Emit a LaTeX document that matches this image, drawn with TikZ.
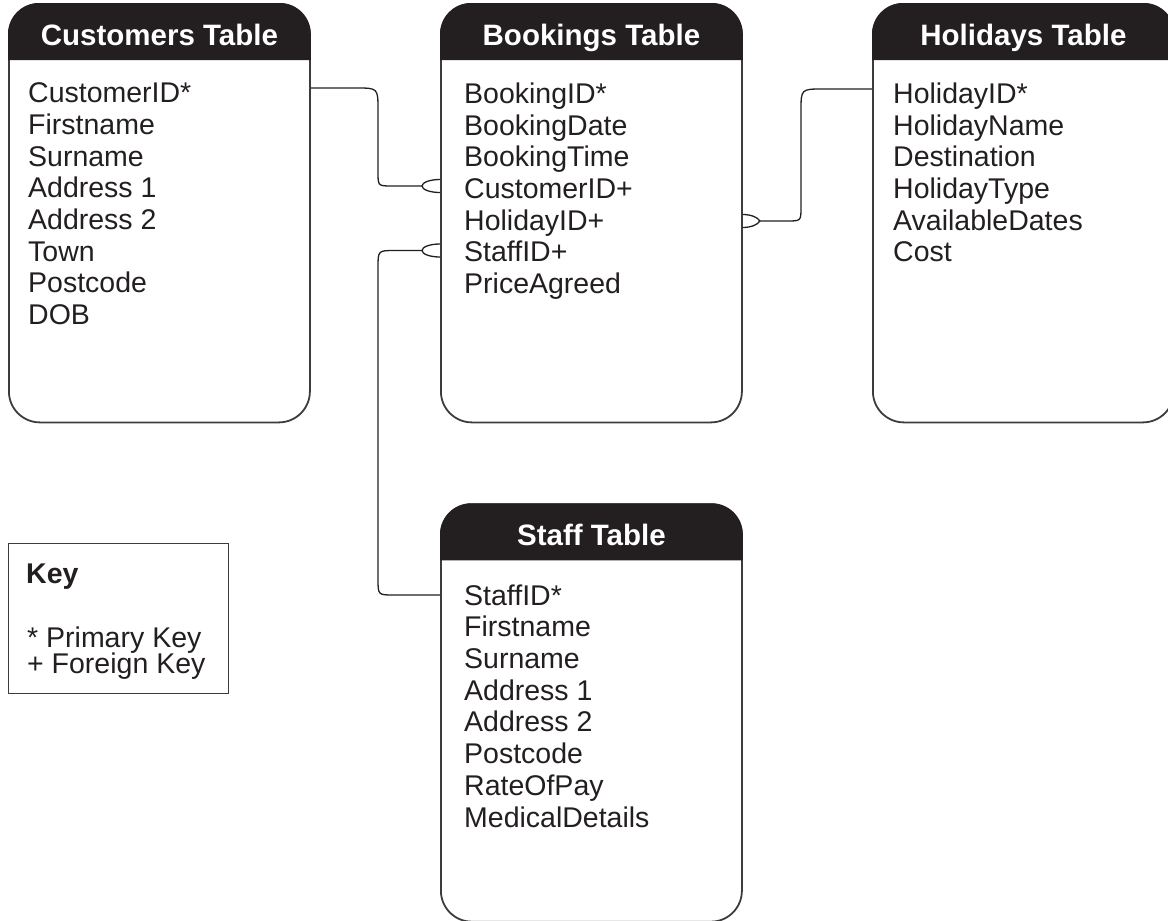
\documentclass[tikz,border=0pt]{standalone}
\usepackage{fontspec}
\setmainfont{Liberation Sans}
\usetikzlibrary{calc}
\definecolor{ink}{HTML}{231F20}
\definecolor{edge}{HTML}{3C3C3C}
\begin{document}
\begin{tikzpicture}[x=1pt,y=-1pt,
  tbl/.style={draw=edge, line width=1.8pt, rounded corners=31pt, minimum width=301pt, minimum height=418.5pt, inner sep=0pt, anchor=north west},
  title/.style={text=white, font=\fontsize{29.5}{30}\selectfont\bfseries, anchor=base, inner sep=0pt},
  fields/.style={text=ink, font=\fontsize{28.5}{31.7}\selectfont, align=left, anchor=north west, inner sep=0pt},
  keytext/.style={text=ink, font=\fontsize{28.5}{30}\selectfont, anchor=base west, inner sep=0pt},
  conn/.style={draw=ink, line width=1.3pt},
  hdrfill/.style={fill=ink}
]
\useasboundingbox (0,0) rectangle (1168,921);
\clip (0,0) rectangle (1168,921);

% tables
\node[tbl] (cust) at (8,3) {};
\node[tbl] (book) at (440,3) {};
\node[tbl] (hol) at (872,3) {};
\node[tbl, minimum height=417.5pt] (staff) at (440,503.3) {};

% headers
\foreach \t in {cust,book,hol,staff}{
  \fill[hdrfill] ($(\t.north west)+(0,57)$) [rounded corners=31pt] -- (\t.north west) -- (\t.north east) [sharp corners] -- ($(\t.north east)+(0,57)$) -- cycle;
}
\node[title] (custT) at ($(cust.north)+(0,42)$) {Customers Table};
\node[title] (bookT) at ($(book.north)+(0,42)$) {Bookings Table};
\node[title] (holT) at ($(hol.north)+(0,42)$) {Holidays Table};
\node[title] (staffT) at ($(staff.north)+(0,42)$) {Staff Table};

% fields
\node[fields] (custF) at ($(cust.north west)+(20,79.5)$) {CustomerID*\\Firstname\\Surname\\Address 1\\Address 2\\Town\\Postcode\\DOB};
\node[fields] (bookF) at ($(book.north west)+(24,79.5)$) {BookingID*\\BookingDate\\BookingTime\\CustomerID+\\HolidayID+\\StaffID+\\PriceAgreed};
\node[fields] (holF) at ($(hol.north west)+(21,79.5)$) {HolidayID*\\HolidayName\\Destination\\HolidayType\\AvailableDates\\Cost};
\node[fields] (staffF) at ($(staff.north west)+(24,81)$) {StaffID*\\Firstname\\Surname\\Address 1\\Address 2\\Postcode\\RateOfPay\\MedicalDetails};

% key
\node[draw=edge, line width=1.2pt, minimum width=220pt, minimum height=150.5pt, anchor=north west, inner sep=0pt] (key) at (8,542.5) {};
\node[keytext, font=\fontsize{28.5}{30}\selectfont\bfseries] (keyT) at ($(key.north west)+(18,41)$) {Key};
\node[keytext] (keyP) at ($(key.north west)+(19,104.5)$) {* Primary Key};
\node[keytext] (keyF) at ($(key.north west)+(19,130.5)$) {+ Foreign Key};

% connector customers -> bookings
\draw[conn] ($(cust.north east)+(0,85)$) -- (356,88) .. controls (378,88) .. (378,110) -- (378,172) .. controls (378,186) .. (392,186) -- ($(book.north west)+(-18,183)$);
\draw[conn] ($(book.north west)+(0,176.5)$) .. controls (430,179.5) and (422,182.4) .. ($(book.north west)+(-18,183)$) .. controls (422,189.6) and (430,192.5) .. ($(book.north west)+(0,189.5)$);

% connector holidays -> bookings
\draw[conn] ($(hol.north west)+(0,86)$) -- (823,89) .. controls (801,89) .. (801,111) -- (801,207) .. controls (801,221) .. (787,221) -- ($(book.north east)+(17,218)$);
\draw[conn] ($(book.north east)+(0,211.5)$) .. controls (751,214.5) and (758,217.4) .. ($(book.north east)+(17,218)$) .. controls (758,224.6) and (751,227.5) .. ($(book.north east)+(0,224.5)$);

% connector staff -> bookings
\draw[conn] ($(book.north west)+(-18,247.5)$) -- (395,250.5) .. controls (378,250.5) .. (378,267.5) -- (378,579) .. controls (378,595) .. (394,595) -- ($(staff.north west)+(0,91.7)$);
\draw[conn] ($(book.north west)+(0,241)$) .. controls (430,244) and (422,246.9) .. ($(book.north west)+(-18,247.5)$) .. controls (422,254.1) and (430,257) .. ($(book.north west)+(0,254)$);
\end{tikzpicture}
\end{document}
